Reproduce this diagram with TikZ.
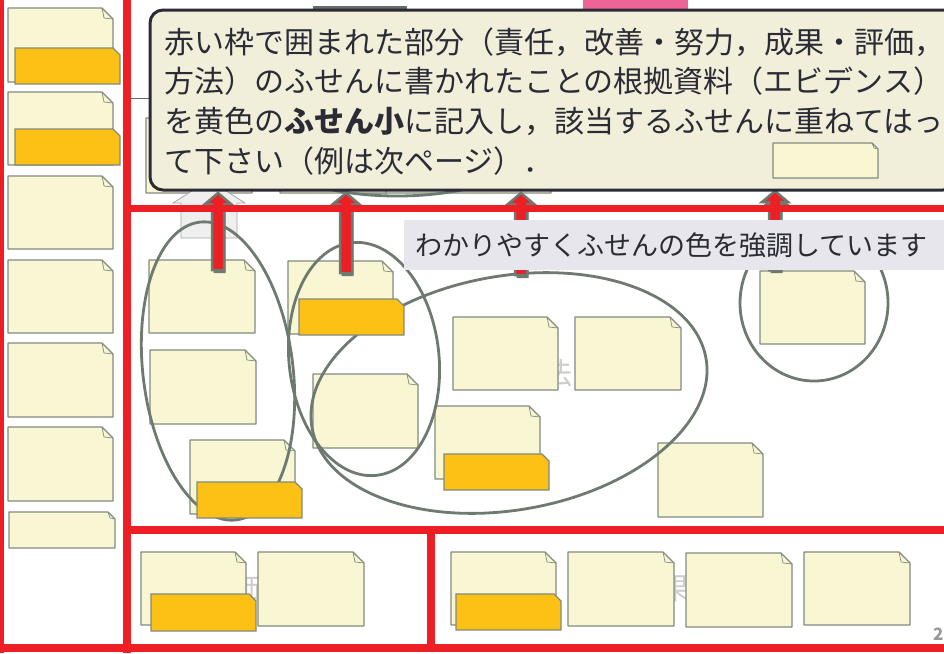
\documentclass[tikz,border=0pt]{standalone}
\usepackage{fontspec}
\setmainfont{Noto Sans CJK JP}
\usetikzlibrary{positioning}
\definecolor{noteyellow}{RGB}{249,247,211}
\definecolor{noteline}{RGB}{128,138,128}
\definecolor{noteorange}{RGB}{253,192,20}
\definecolor{ringgray}{RGB}{110,122,112}
\definecolor{framered}{RGB}{237,30,36}
\definecolor{calloutbg}{RGB}{241,238,218}
\definecolor{textdark}{RGB}{43,43,54}
\definecolor{hintbg}{RGB}{230,230,236}
\definecolor{faintgray}{RGB}{205,205,205}
\definecolor{lightarrow}{RGB}{239,239,239}
\definecolor{pinkbox}{RGB}{238,100,150}
\definecolor{darkbox}{RGB}{100,110,105}
\newcommand{\fusen}[5]{%
  \filldraw[sticky] (#1,#2) -- (#1+#3-#5,#2) -- (#1+#3,#2+#5) -- (#1+#3,#2+#4) -- (#1,#2+#4) -- cycle;
  \draw[sticky fold] (#1+#3-#5,#2) -- (#1+#3-#5+2,#2+#5-1) -- (#1+#3,#2+#5);}
\newcommand{\daidai}[4]{%
  \filldraw[orange note] (#1,#2) -- (#1+#3-7,#2) -- (#1+#3,#2+7) -- (#1+#3,#2+#4) -- (#1,#2+#4) -- cycle;}
\newcommand{\uppath}[3]{(#1-6,#3) -- (#1-6,#2+11) -- (#1-13,#2+11) -- (#1,#2) -- (#1+13,#2+11) -- (#1+6,#2+11) -- (#1+6,#3) -- cycle}

\begin{document}
\begin{tikzpicture}[x=1pt,y=-1pt,
    sticky/.style={fill=noteyellow,draw=noteline,line width=1.2pt,line join=round},
    sticky fold/.style={draw=noteline,line width=0.7pt},
    orange note/.style={fill=noteorange,draw=noteline,line width=1.2pt},
    group ring/.style={draw=ringgray,line width=2.8pt},
    red frame/.style={draw=framered,line width=8pt},
    up arrow/.style={fill=framered,draw=ringgray,line width=2.5pt},
    callout/.style={fill=calloutbg,draw=textdark,line width=3pt,rounded corners=13pt},
    callout text/.style={font=\fontsize{30}{40}\selectfont,text=textdark,inner sep=0pt,anchor=base west},
    hint box/.style={fill=hintbg,font=\fontsize{27}{30}\selectfont,text=textdark,text width=524pt,align=left,inner xsep=11pt,minimum height=50pt},
    faint text/.style={font=\fontsize{30}{30}\selectfont,text=faintgray,inner sep=0pt}]
  \useasboundingbox (0,0) rectangle (944,653);
  \clip (0,0) rectangle (944,653);

  % behind the callout
  \fill[pinkbox] (583,0) rectangle (688,30);
  \fill[darkbox] (313,6) rectangle (407,40);
  \draw[darkbox,line width=0.8pt] (131,98) -- (170,98);
  \fusen{146}{118}{106}{75}{11}
  \fusen{341}{118}{105}{75}{11}
  \fusen{280}{118}{106}{75}{11}
  \fusen{446}{118}{105}{75}{11}
  \draw[group ring] (397,150) ellipse (130 and 46);
  \filldraw[fill=lightarrow,draw=gray!70,line width=0.8pt] (181,238) -- (181,203) -- (173,203) -- (209,180) -- (245,203) -- (237,203) -- (237,238) -- cycle;

  \node[faint text] (hohou) at (542,373) {方法};
  \node[faint text] (hyouka) at (230,588) {評価};
  \node[faint text] (seika) at (660,588) {成果};

  % left column
  \fusen{8}{8}{105}{74}{11}
  \fusen{8}{92}{105}{73}{11}
  \fusen{8}{176}{105}{73}{11}
  \fusen{8}{260}{105}{73}{11}
  \fusen{8}{343}{105}{74}{11}
  \fusen{8}{427}{105}{74}{11}
  \fusen{9}{512}{106}{36}{7}
  \daidai{15}{48}{105}{36}
  \daidai{15}{129}{105}{36}

  % main area
  \fusen{149}{260}{106}{73}{11}
  \fusen{288}{261}{105}{73}{11}
  \fusen{150}{350}{106}{74}{11}
  \fusen{190}{440}{105}{74}{11}
  \fusen{313}{374}{105}{74}{11}
  \fusen{435}{406}{105}{73}{11}
  \fusen{453}{317}{105}{73}{11}
  \fusen{575}{317}{106}{73}{11}
  \fusen{658}{443}{105}{74}{11}
  \fusen{760}{271}{105}{73}{11}
  \draw[group ring, rotate around={7:(218,371)}] (218,371) ellipse (75 and 150);
  \draw[group ring, rotate around={6:(364,359)}] (364,359) ellipse (75 and 117);
  \draw[group ring, rotate around={10:(509,393)}] (509,393) ellipse (200 and 117);
  \draw[group ring] (814,303) ellipse (74 and 78);
  \daidai{299}{299}{105}{36}
  \daidai{197}{482}{105}{36}
  \daidai{444}{454}{105}{36}

  % bottom row
  \fusen{141}{552}{105}{73}{11}
  \fusen{258}{552}{106}{74}{11}
  \daidai{151}{594}{105}{37}
  \fusen{451}{552}{105}{73}{11}
  \fusen{568}{552}{106}{74}{11}
  \fusen{686}{553}{106}{74}{11}
  \fusen{804}{552}{106}{73}{11}
  \daidai{456}{594}{105}{36}

  % arrows up to the callout
  \fill[ringgray,shift={(1.5,3)}] \uppath{218}{193}{270};
  \filldraw[up arrow] \uppath{218}{193}{270};
  \fill[ringgray,shift={(1.5,3)}] \uppath{346}{193}{273};
  \filldraw[up arrow] \uppath{346}{193}{273};
  \fill[ringgray,shift={(1.5,3)}] \uppath{521}{193}{275};
  \filldraw[up arrow] \uppath{521}{193}{275};
  \fill[ringgray,shift={(1.5,3)}] \uppath{775}{191}{270};
  \filldraw[up arrow] \uppath{775}{191}{270};

  % red frames
  \draw[red frame,line width=6pt] (0.5,0) -- (0.5,653);
  \draw[red frame] (127,0) -- (127,653);
  \draw[red frame,line width=7pt] (127,208.5) -- (944,208.5);
  \draw[red frame] (127,530) -- (944,530);
  \draw[red frame] (0,648) -- (944,648);
  \draw[red frame] (431,530) -- (431,648);

  \node[hint box,anchor=west] (hint) at (404,245) {わかりやすくふせんの色を強調しています};

  % callout
  \draw[callout] (150,10) rectangle (956,190);
  \node[callout text] (line1) at (164,53) {赤い枠で囲まれた部分（責任，改善・努力，成果・評価，};
  \node[callout text] (line2) at (164,92) {方法）のふせんに書かれたことの根拠資料（エビデンス）};
  \node[callout text] (line3) at (164,132) {を黄色の{\bfseries ふせん小}に記入し，該当するふせんに重ねてはっ};
  \node[callout text] (line4) at (164,172) {て下さい（例は次ページ）．};
  \fusen{773}{143}{105}{35}{6}

  \node[anchor=base west,font=\bfseries\fontsize{17}{17}\selectfont,text=gray!80,inner sep=0pt] (pagenum) at (933,640) {2};
\end{tikzpicture}
\end{document}
